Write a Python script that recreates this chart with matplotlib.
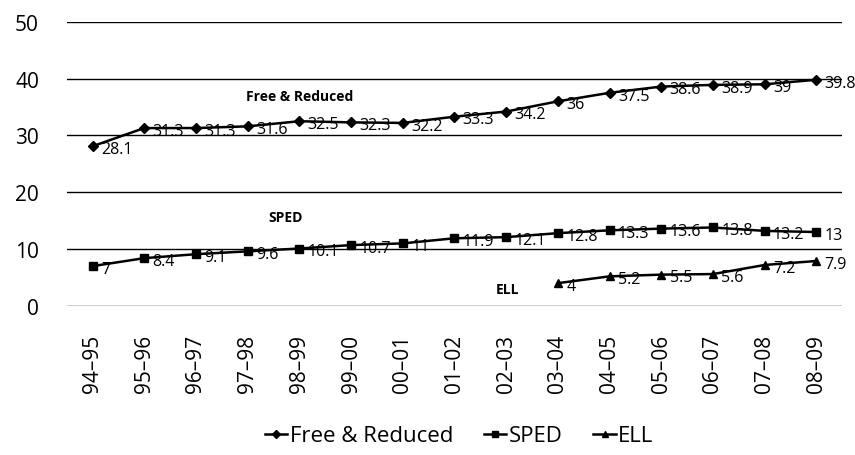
import numpy as np
import matplotlib
matplotlib.use('Agg')
import matplotlib.pyplot as plt

plt.rcParams['font.family'] = ['Open Sans', 'DejaVu Sans']

years = ['94–95', '95–96', '96–97', '97–98', '98–99', '99–00', '00–01', '01–02',
         '02–03', '03–04', '04–05', '05–06', '06–07', '07–08', '08–09']
free_red = [28.1, 31.3, 31.3, 31.6, 32.5, 32.3, 32.2, 33.3, 34.2, 36, 37.5, 38.6, 38.9, 39, 39.8]
sped = [7, 8.4, 9.1, 9.6, 10.1, 10.7, 11, 11.9, 12.1, 12.8, 13.3, 13.6, 13.8, 13.2, 13]
ell_years = years[9:]
ell = [4, 5.2, 5.5, 5.6, 7.2, 7.9]

x = np.arange(len(years))
x_ell = x[9:]

fig = plt.figure(figsize=(8.55, 4.56), dpi=100)
a = fig.add_axes([0.078, 0.327, 0.907, 0.623])

series = [(x, free_red, 'D', 'Free & Reduced', 5),
          (x, sped, 's', 'SPED', 5.5),
          (x_ell, ell, '^', 'ELL', 6)]
for xs, ys, m, lab, ms in series:
    a.plot(xs, ys, color='black', lw=1.8, marker=m, ms=ms, label=lab)
    for xi, yi in zip(xs, ys):
        a.annotate('%g' % yi, (xi, yi), xytext=(6, -2), textcoords='offset points',
                   ha='left', va='center', fontsize=11.5, color='black')

a.text(4.0, 37.0, 'Free & Reduced', ha='center', va='center', fontsize=10, fontweight='bold')
a.text(3.73, 15.7, 'SPED', ha='center', va='center', fontsize=10, fontweight='bold')
a.text(8.03, 3.0, 'ELL', ha='center', va='center', fontsize=10, fontweight='bold')

a.set_xlim(-0.5, len(years) - 0.5)
a.set_ylim(0, 50)
a.set_yticks([0, 10, 20, 30, 40, 50])
a.set_xticks(x)
a.set_xticklabels(years, rotation=90, fontsize=15)
a.tick_params(axis='y', labelsize=15, length=0, pad=20)
a.tick_params(axis='x', length=0, pad=20)
a.yaxis.grid(True, color='black', lw=1)
a.set_axisbelow(True)
for s in a.spines.values():
    s.set_visible(False)

fig.legend(*a.get_legend_handles_labels(), loc='center', bbox_to_anchor=(0.537, 0.042),
           ncol=3, frameon=False, fontsize=16, handlelength=1.0, handletextpad=0.1,
           columnspacing=1.4, markerscale=0.8)

fig.savefig('out.png', dpi=100)
